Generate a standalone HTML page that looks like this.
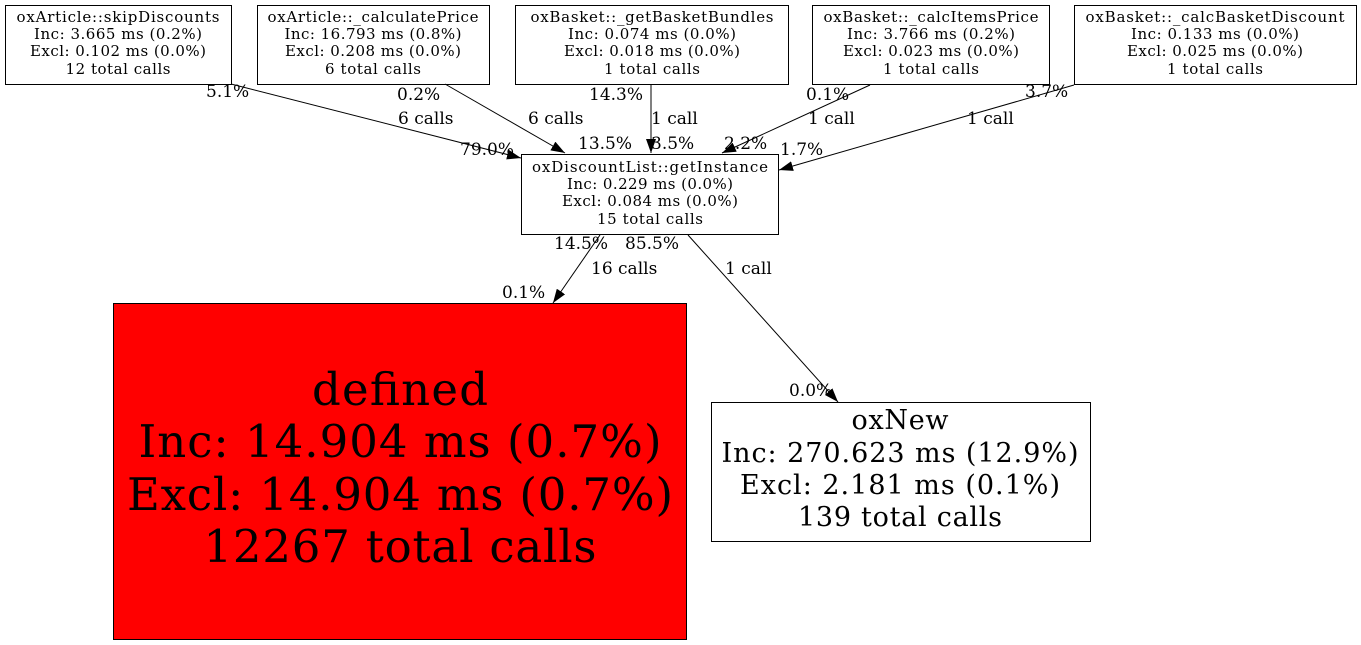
<!DOCTYPE html>
<html><head><meta charset="utf-8"><style>
html,body{margin:0;padding:0;background:#fff;width:1361px;height:645px;overflow:hidden}
svg text{font-family:"DejaVu Serif","Liberation Serif",serif;fill:#000}
.n{font-size:15px;text-anchor:middle}
.e{font-size:17px}
</style></head><body>
<svg width="1361" height="645" viewBox="0 0 1361 645" xmlns="http://www.w3.org/2000/svg">
<defs><marker id="a" markerWidth="14" markerHeight="10" refX="14" refY="5" orient="auto" markerUnits="userSpaceOnUse"><path d="M0,0L14,5L0,10Z" fill="#000"/></marker></defs>
<g fill="#fff" stroke="#000" stroke-width="1">
<rect x="5.5" y="5.5" width="226" height="79"/>
<rect x="257.5" y="5.5" width="232" height="79"/>
<rect x="515.5" y="5.5" width="273" height="79"/>
<rect x="812.5" y="5.5" width="237" height="79"/>
<rect x="1074.5" y="5.5" width="282" height="79"/>
<rect x="521.5" y="154.5" width="257" height="80"/>
<rect x="113.5" y="303.5" width="573" height="336" fill="#ff0000"/>
<rect x="711.5" y="402.5" width="379" height="139"/>
</g>
<g class="n" lengthAdjust="spacingAndGlyphs">
<text x="118" y="22" textLength="203">oxArticle::skipDiscounts</text><text x="118" y="39" textLength="168">Inc: 3.665 ms (0.2%)</text><text x="118" y="56" textLength="176">Excl: 0.102 ms (0.0%)</text><text x="118" y="74" textLength="105">12 total calls</text>
<text x="373" y="22" textLength="211">oxArticle::_calculatePrice</text><text x="373" y="39" textLength="177">Inc: 16.793 ms (0.8%)</text><text x="373" y="56" textLength="176">Excl: 0.208 ms (0.0%)</text><text x="373" y="74" textLength="96">6 total calls</text>
<text x="652" y="22" textLength="243">oxBasket::_getBasketBundles</text><text x="652" y="39" textLength="168">Inc: 0.074 ms (0.0%)</text><text x="652" y="56" textLength="176">Excl: 0.018 ms (0.0%)</text><text x="652" y="74" textLength="96">1 total calls</text>
<text x="931" y="22" textLength="215">oxBasket::_calcItemsPrice</text><text x="931" y="39" textLength="168">Inc: 3.766 ms (0.2%)</text><text x="931" y="56" textLength="176">Excl: 0.023 ms (0.0%)</text><text x="931" y="74" textLength="96">1 total calls</text>
<text x="1215" y="22" textLength="259">oxBasket::_calcBasketDiscount</text><text x="1215" y="39" textLength="168">Inc: 0.133 ms (0.0%)</text><text x="1215" y="56" textLength="176">Excl: 0.025 ms (0.0%)</text><text x="1215" y="74" textLength="96">1 total calls</text>
<text x="650" y="172" textLength="236">oxDiscountList::getInstance</text><text x="650" y="189" textLength="166">Inc: 0.229 ms (0.0%)</text><text x="650" y="206" textLength="176">Excl: 0.084 ms (0.0%)</text><text x="650" y="224" textLength="106">15 total calls</text>
</g>
<g text-anchor="middle" style="font-size:45px" lengthAdjust="spacingAndGlyphs">
<text x="400" y="405" textLength="176">defined</text><text x="400" y="457" textLength="523">Inc: 14.904 ms (0.7%)</text><text x="400" y="510" textLength="546">Excl: 14.904 ms (0.7%)</text><text x="400" y="562" textLength="393">12267 total calls</text>
</g>
<g text-anchor="middle" style="font-size:27px" lengthAdjust="spacingAndGlyphs">
<text x="900" y="429" textLength="97">oxNew</text><text x="900" y="462" textLength="357">Inc: 270.623 ms (12.9%)</text><text x="900" y="494" textLength="320">Excl: 2.181 ms (0.1%)</text><text x="900" y="526" textLength="204">139 total calls</text>
</g>
<g stroke="#000" stroke-width="1" fill="none" marker-end="url(#a)">
<path d="M231,84L521,158"/>
<path d="M445,84L565,153"/>
<path d="M651,85L651,153"/>
<path d="M870,85L722,153"/>
<path d="M1074,85L779,170"/>
<path d="M600,235L553,303"/>
<path d="M688,235L838,402"/>
</g>
<g class="e">
<text x="206" y="97">5.1%</text><text x="398" y="124">6 calls</text><text x="460" y="155">79.0%</text>
<text x="397" y="100">0.2%</text><text x="528" y="124">6 calls</text><text x="578" y="149">13.5%</text>
<text x="589" y="100">14.3%</text><text x="651" y="124">1 call</text><text x="651" y="149">3.5%</text>
<text x="806" y="100">0.1%</text><text x="808" y="124">1 call</text><text x="724" y="149">2.2%</text>
<text x="1025" y="97">3.7%</text><text x="967" y="124">1 call</text><text x="780" y="155">1.7%</text>
<text x="554" y="249">14.5%</text><text x="625" y="249">85.5%</text><text x="591" y="274">16 calls</text><text x="502" y="298">0.1%</text>
<text x="725" y="274">1 call</text><text x="789" y="396">0.0%</text>
</g>
</svg>
</body></html>
